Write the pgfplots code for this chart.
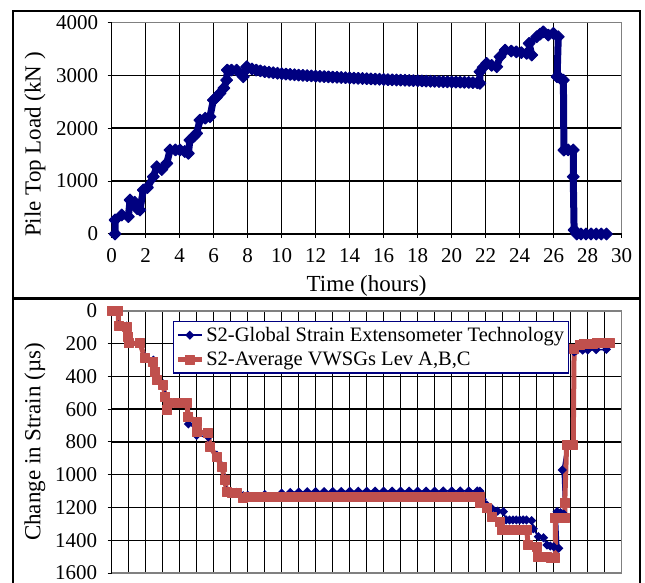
\documentclass[border=0pt]{standalone}
\usepackage{fontspec}
\setmainfont{Liberation Serif}
\usepackage{pgfplots}
\pgfplotsset{compat=1.18}
\definecolor{navyb}{RGB}{0,0,128}
\definecolor{redb}{RGB}{192,80,77}
\pgfplotsset{
 mystyle/.style={
  scale only axis, width=510pt, xmin=0, xmax=30, clip=false,
  axis line style={draw=none},
  grid=major, major grid style={black, line width=1.5pt},
  tick align=outside, major tick length=4pt, tick style={black, line width=1pt},
  xtick pos=left, ytick pos=left,
  ticklabel style={font=\fontsize{21}{24}\selectfont},
  label style={font=\fontsize{23}{27}\selectfont},
  /pgf/number format/assume math mode=true,
  /pgf/number format/set thousands separator={},
  scaled ticks=false,
 }}
\pgfplotstableread{
t L
0.2 0
0.2 265
0.59 360
0.98 327
1.08 643
1.35 600
1.5 480
1.66 454
1.86 832
2.1 880
2.45 1083
2.65 1272
2.95 1220
3.24 1336
3.43 1588
3.75 1590
4.02 1588
4.3 1560
4.51 1525
4.6 1777
4.85 1850
5.0 1903
5.19 2155
5.5 2190
5.78 2217
5.98 2533
6.15 2580
6.37 2660
6.6 2760
6.76 2911
6.8 3100
7.05 3100
7.35 3100
7.74 2974
7.94 3163
8.0 3140
8.25 3120
8.5 3100
8.75 3085
9.0 3070
9.25 3060
9.5 3050
9.75 3040
10 3030
10.25 3024
10.5 3018
10.75 3011
11 3005
11.25 3000
11.5 2995
11.75 2990
12 2985
12.25 2981
12.5 2977
12.75 2972
13 2968
13.25 2964
13.5 2960
13.75 2956
14 2952
14.25 2948
14.5 2944
14.75 2941
15 2937
15.25 2933
15.5 2930
15.75 2926
16 2922
16.25 2919
16.5 2916
16.75 2913
17 2910
17.25 2907
17.5 2904
17.75 2901
18 2898
18.25 2895
18.5 2892
18.75 2889
19 2886
19.25 2883
19.5 2880
19.75 2878
20 2875
20.25 2873
20.5 2871
20.75 2868
21 2866
21.25 2863
21.5 2860
21.66 2850
21.66 3068
21.85 3150
22.06 3226
22.35 3190
22.65 3163
22.84 3352
23.14 3478
23.5 3460
23.8 3445
24.1 3430
24.41 3415
24.71 3384
24.55 3605
25.0 3730
25.2 3780
25.39 3824
25.68 3762
25.98 3794
26.27 3730
26.2 2974
26.4 2940
26.57 2911
26.6 1588
26.85 1590
27.15 1588
27.15 1083
27.2 76
27.35 0
27.6 0
27.9 0
28.2 0
28.5 0
28.8 0
29.1 0
}\loadtable
\pgfplotstableread{
t S
0 0
0.39 0
0.4 90
0.88 96
0.98 157
1.0 197
1.66 197
1.96 289
2.45 310
2.55 371
2.65 421
3.04 452
3.14 523
3.24 605
3.33 564
3.9 564
4.41 564
4.51 645
5.0 676
5.0 737
5.68 747
5.78 829
6.18 890
6.47 951
6.66 1032
6.76 1103
7.05 1110
7.35 1114
7.74 1144
8.0 1138
8.25 1136
8.5 1136
8.75 1136
9.0 1136
9.25 1136
9.5 1136
9.75 1136
10.0 1136
10.25 1136
10.5 1136
10.75 1136
11.0 1136
11.25 1136
11.5 1136
11.75 1136
12.0 1135
12.25 1135
12.5 1135
12.75 1135
13.0 1135
13.25 1135
13.5 1135
13.75 1135
14.0 1135
14.25 1135
14.5 1135
14.75 1135
15.0 1135
15.25 1135
15.5 1134
15.75 1134
16.0 1134
16.25 1134
16.5 1134
16.75 1134
17.0 1134
17.25 1134
17.5 1134
17.75 1134
18.0 1134
18.25 1134
18.5 1134
18.75 1134
19.0 1134
19.25 1134
19.5 1134
19.75 1134
20.0 1134
20.25 1134
20.5 1134
20.75 1134
21.0 1134
21.25 1134
21.5 1134
21.66 1134
21.66 1175
22.06 1205
22.35 1256
22.84 1287
22.94 1337
23.2 1337
23.5 1337
23.8 1337
24.1 1337
24.41 1337
24.5 1429
25.0 1439
25.1 1500
25.35 1502
25.6 1504
25.85 1506
26.1 1507
26.1 1266
26.4 1266
26.65 1266
26.65 1175
26.76 818
27.0 818
27.15 818
27.2 230
27.55 205
27.8 202
28.05 200
28.3 199
28.55 198
28.8 197
29.05 196
29.3 194
}\redtable
\pgfplotstableread{
t S
0 0
0.39 0
0.4 85
0.88 92
0.98 150
1.0 192
1.66 192
1.96 280
2.45 300
2.55 362
2.65 415
3.04 445
3.14 515
3.24 595
3.33 560
4.41 560
4.51 690
4.9 700
5.0 760
5.68 770
5.78 830
6.18 880
6.47 945
6.66 1025
6.76 1098
7.35 1108
7.74 1128
8.0 1125
9.0 1120
10.0 1112
10.5 1108
11.0 1105
11.5 1104
12.0 1103
12.5 1103
13.0 1102
13.5 1102
14.0 1101
14.5 1101
15.0 1101
15.5 1100
16.0 1100
16.5 1100
17.0 1100
17.5 1100
18.0 1100
18.5 1100
19.0 1100
19.5 1099
20.0 1099
20.5 1099
21.0 1099
21.5 1099
21.66 1100
21.8 1150
22.06 1185
22.35 1205
22.7 1222
23.04 1225
23.2 1276
23.4 1276
23.6 1276
23.8 1276
24.0 1276
24.2 1276
24.4 1276
24.7 1280
24.8 1330
25.1 1378
25.4 1385
25.6 1429
25.8 1435
26.0 1440
26.3 1449
26.2 1225
26.4 1232
26.6 1240
26.5 971
26.75 818
27.1 818
27.2 250
27.35 240
27.7 239
28.0 238
28.5 236
29.1 235
}\bluetable
\begin{document}
\begin{tikzpicture}
\useasboundingbox (0pt,0pt) rectangle (645pt,583pt);
\draw[line width=2pt] (13pt,0pt) -- (13pt,572pt) -- (640pt,572pt) -- (640pt,0pt);
\draw[line width=3.5pt] (13pt,284.7pt) -- (640pt,284.7pt);
% top panel
\begin{axis}[mystyle,
  at={(111.7pt,349pt)}, anchor=south west, height=211.5pt,
  ymin=0, ymax=4000,
  xtick={0,2,...,30}, ytick={0,1000,...,4000},
  xticklabel style={yshift=-7pt}, yticklabel style={xshift=-6pt},
  xlabel={Time (hours)},
  xlabel style={at={(axis description cs:0.5,-0.245)}, anchor=center},
  ylabel={Pile Top Load (kN )},
  ylabel style={at={(axis description cs:-0.1504,0.423)}, anchor=center},
]
\draw[gray, line width=1.5pt] (axis cs:0,4000) -- (axis cs:30,4000) -- (axis cs:30,0);
\draw[black, line width=1.5pt] (axis cs:0,4000) -- (axis cs:0,0) -- (axis cs:30,0);
\addplot[navyb, line width=7pt, line join=round, mark=square*, mark size=4.2pt,
  mark options={rotate=45, solid, line width=1pt}] table[x=t, y=L] {\loadtable};
\end{axis}
% bottom panel
\begin{axis}[mystyle,
  at={(111.7pt,10pt)}, anchor=south west, height=262pt,
  ymin=0, ymax=1600, y dir=reverse,
  xtick={0,1,...,30}, xticklabels={}, xtick style={draw=none},
  ytick={0,200,...,1600},
  yticklabel style={xshift=-7pt},
  ylabel={Change in Strain (µs)},
  ylabel style={at={(axis description cs:-0.1504,0.5)}, anchor=center},
  legend style={at={(axis description cs:0.1196,0.963)}, anchor=north west,
    draw=navyb, line width=1.2pt, fill=white,
    font=\fontsize{20.5}{23}\selectfont, inner xsep=2pt, inner ysep=4pt,
    row sep=5pt},
  legend cell align=left,
  legend image code/.code={\draw[mark repeat=2,mark phase=2,#1] plot coordinates {(0pt,0pt) (12pt,0pt) (24pt,0pt)};},
]
\draw[gray, line width=1.5pt] (axis cs:0,0) -- (axis cs:30,0) -- (axis cs:30,1600) -- (axis cs:0,1600);
\draw[black, line width=1.5pt] (axis cs:0,0) -- (axis cs:0,1600);
\addplot[navyb, line width=1.5pt, mark=square*, mark size=2.5pt,
  mark options={rotate=45, solid}] table[x=t, y=S] {\bluetable};
\addlegendentry{S2-Global Strain Extensometer Technology}
\addplot[redb, line width=5pt, line join=round, mark=square*, mark size=4.5pt,
  mark options={solid, line width=1pt}] table[x=t, y=S] {\redtable};
\addlegendentry{S2-Average VWSGs Lev A,B,C}
\end{axis}
\end{tikzpicture}
\end{document}
